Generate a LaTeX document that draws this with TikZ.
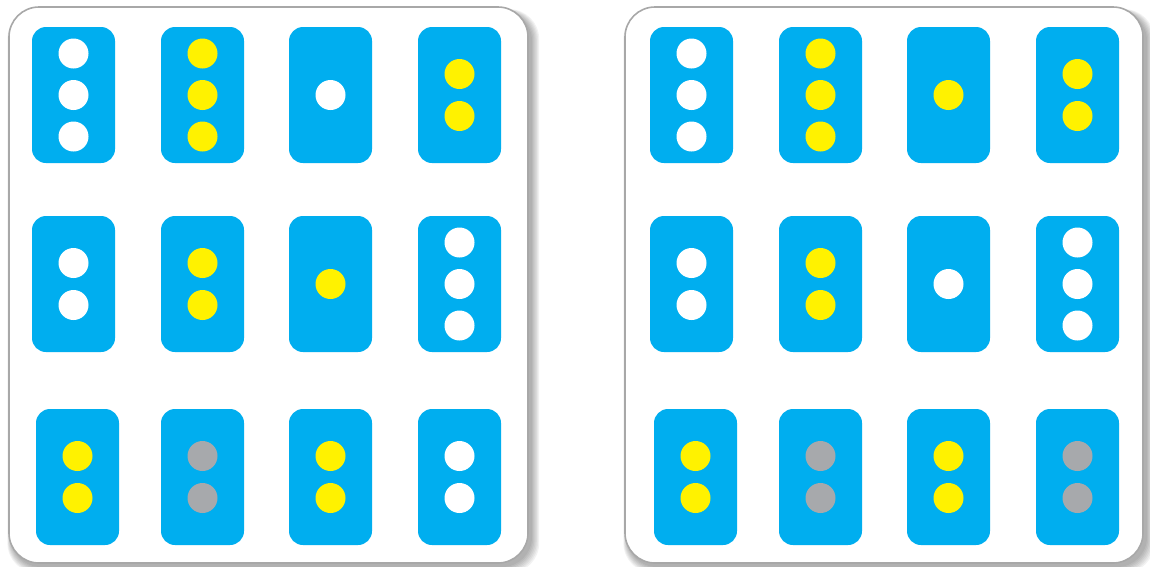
\documentclass[tikz,border=0pt]{standalone}
\definecolor{cardblue}{HTML}{00AEEF}
\definecolor{lampyellow}{HTML}{FFF200}
\definecolor{lampgray}{HTML}{A7A9AC}
\definecolor{framegray}{HTML}{A8A8A8}
\newcommand\tlcardthree[4]{%
  \node[card] (#1) at (#2,#3) {};
  \node[lamp,fill=#4,yshift=41.5pt] (#1a) at (#1) {};
  \node[lamp,fill=#4] (#1b) at (#1) {};
  \node[lamp,fill=#4,yshift=-41.5pt] (#1c) at (#1) {};}
\newcommand\tlcardtwo[4]{%
  \node[card] (#1) at (#2,#3) {};
  \node[lamp,fill=#4,yshift=21pt] (#1a) at (#1) {};
  \node[lamp,fill=#4,yshift=-21pt] (#1b) at (#1) {};}
\newcommand\tlcardone[4]{%
  \node[card] (#1) at (#2,#3) {};
  \node[lamp,fill=#4] (#1a) at (#1) {};}
\newcommand\tlpanel[4]{%
  \foreach \k in {0,...,6}{
    \fill[black,opacity=0.05,rounded corners=30pt]
      (#1+2-\k*0.6,#2+4-\k*0.3) rectangle (#3+4+\k*1.2,#4+4+\k*1.0);
  }
  \draw[panel] (#1,#2) rectangle (#3,#4);}
\begin{document}
\begin{tikzpicture}[x=1pt,y=-1pt,
  card/.style={fill=cardblue,rounded corners=14pt,minimum width=83pt,minimum height=136pt,inner sep=0pt,draw=none},
  lamp/.style={circle,minimum size=30pt,inner sep=0pt,draw=none},
  panel/.style={fill=white,draw=framegray,line width=1.6pt,rounded corners=30pt}]
\useasboundingbox (0,0) rectangle (1150,566);
\tlpanel{9}{7}{528}{563}
\tlpanel{625}{7}{1143}{563}
% left panel
\tlcardthree{L11}{73.5}{95}{white}
\tlcardthree{L12}{202.5}{95}{lampyellow}
\tlcardone{L13}{330.5}{95}{white}
\tlcardtwo{L14}{459.5}{95}{lampyellow}
\tlcardtwo{L21}{73.5}{284}{white}
\tlcardtwo{L22}{202.5}{284}{lampyellow}
\tlcardone{L23}{330.5}{284}{lampyellow}
\tlcardthree{L24}{459.5}{284}{white}
\tlcardtwo{L31}{77.5}{477}{lampyellow}
\tlcardtwo{L32}{202.5}{477}{lampgray}
\tlcardtwo{L33}{330.5}{477}{lampyellow}
\tlcardtwo{L34}{459.5}{477}{white}
% right panel
\tlcardthree{R11}{691.5}{95}{white}
\tlcardthree{R12}{820.5}{95}{lampyellow}
\tlcardone{R13}{948.5}{95}{lampyellow}
\tlcardtwo{R14}{1077.5}{95}{lampyellow}
\tlcardtwo{R21}{691.5}{284}{white}
\tlcardtwo{R22}{820.5}{284}{lampyellow}
\tlcardone{R23}{948.5}{284}{white}
\tlcardthree{R24}{1077.5}{284}{white}
\tlcardtwo{R31}{695.5}{477}{lampyellow}
\tlcardtwo{R32}{820.5}{477}{lampgray}
\tlcardtwo{R33}{948.5}{477}{lampyellow}
\tlcardtwo{R34}{1077.5}{477}{lampgray}
\end{tikzpicture}
\end{document}
